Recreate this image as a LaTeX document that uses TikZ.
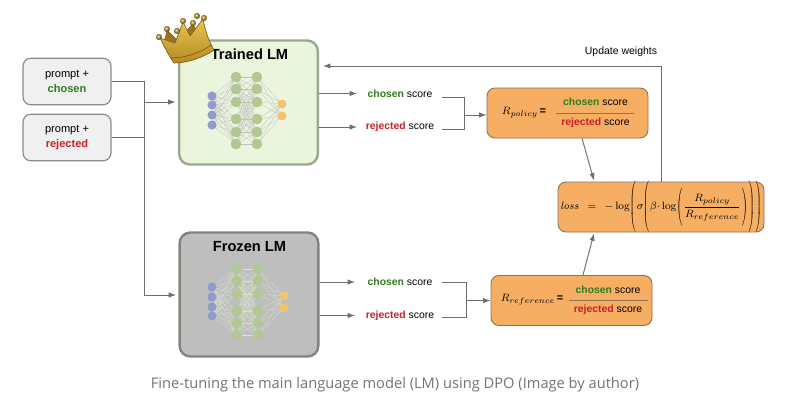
\documentclass[tikz,border=0pt]{standalone}
\usepackage{amsmath}
\usepackage[no-math]{fontspec}
\setmainfont{Liberation Sans}
\newfontfamily\capfont{Open Sans}
\usetikzlibrary{arrows.meta}
\definecolor{cgreen}{HTML}{2F7D1F}
\definecolor{cred}{HTML}{C8202A}
\definecolor{linec}{HTML}{6E6E6E}
\definecolor{orbox}{HTML}{F5AE62}
\definecolor{orline}{HTML}{8F7458}
\definecolor{hid}{HTML}{B3C794}
\definecolor{inp}{HTML}{8F9BCB}
\definecolor{outp}{HTML}{F3C470}
\definecolor{goldlt}{HTML}{E8C653}
\definecolor{goldmd}{HTML}{C99A26}
\definecolor{golddark}{HTML}{7E5C10}
\definecolor{tfill}{HTML}{EBF4DD}
\definecolor{tline}{HTML}{9BA88C}
\definecolor{ffill}{HTML}{BEBEBE}
\definecolor{fline}{HTML}{7F877A}
\definecolor{fedge}{HTML}{D8E6CC}
\newcommand{\chs}{\textbf{\textcolor{cgreen}{chosen}}}
\newcommand{\rej}{\textbf{\textcolor{cred}{rejected}}}
\newcommand{\lpar}[1]{\mathopen{\scalebox{0.6}[1]{$\left(\vrule height #1 depth #1 width 0pt\right.$}}}
\newcommand{\rpar}[1]{\mathclose{\scalebox{0.6}[1]{$\left.\vrule height #1 depth #1 width 0pt\right)$}}}
\tikzset{
  x=0.75pt,y=-0.75pt,
  inbox/.style={draw=black!45,line width=0.9pt,rounded corners=6pt,fill=black!6,minimum width=66pt,minimum height=35pt,align=center,font=\fontsize{8.3}{11}\selectfont,inner sep=0pt},
  lmbox/.style={line width=1.8pt,rounded corners=8pt,minimum width=104pt,minimum height=93pt,inner sep=0pt},
  orangebox/.style={draw=orline,line width=0.7pt,fill=orbox,rounded corners=6pt,inner sep=0pt},
  conn/.style={draw=linec,line width=0.7pt},
  arr/.style={conn,-{Latex[length=5.5pt,width=4pt]}},
  lbl/.style={font=\fontsize{7.8}{9}\selectfont,inner sep=0pt},
  neuron/.style={circle,inner sep=0pt,minimum size=8pt},
}
\newcommand{\nnet}[9]{%
  \foreach \u in {#6}{\foreach \v in {#7}{\draw[#9,line width=0.2pt] (#2,\u) -- (#3,\v);}}
  \foreach \u in {#7}{\foreach \v in {#7}{\draw[#9,line width=0.2pt] (#3,\u) -- (#4,\v);}}
  \foreach \u in {#7}{\foreach \v in {#8}{\draw[#9,line width=0.2pt] (#4,\u) -- (#5,\v);}}
  \foreach \u in {#6}{\node[neuron,fill=inp,minimum size=6.8pt] at (#2,\u) {};}
  \foreach \u in {#7}{\node[neuron,fill=hid] at (#3,\u) {};\node[neuron,fill=hid] at (#4,\u) {};}
  \foreach \u in {#8}{\node[neuron,fill=outp,minimum size=6.8pt] at (#5,\u) {};}
}
\begin{document}
\begin{tikzpicture}
\useasboundingbox (0,0) rectangle (786,404);
\fill[white] (0,0) rectangle (786,404);
% input boxes
\node[inbox] (pc) at (67,81.5) {prompt +\\\chs};
\node[inbox] (pr) at (67,137.5) {prompt +\\\rej};
% LM boxes
\node[lmbox,draw=tline,fill=tfill] (tl) at (248.5,102.5) {};
\node[lmbox,draw=fline,fill=ffill] (fl) at (249,294.5) {};
\nnet{t}{212}{236}{257}{282}{96,105,115,125}{77,89,102,119,132,144}{104,116}{black!25}
\nnet{f}{212}{237}{258}{284}{287,297,307,316}{269,281,294,311,323,335}{296,308}{fedge}
\node[font=\fontsize{11}{13}\bfseries\selectfont,inner sep=0pt] (tt) at (249.5,54.5) {Trained LM};
\node[font=\fontsize{11}{13}\bfseries\selectfont,inner sep=0pt] (ft) at (249.5,246.5) {Frozen LM};
% crown
\begin{scope}[line join=round]
\fill[goldmd!75!black,draw=golddark,line width=0.4pt] (164,44) -- (167,30) -- (177,40) -- (193,24) -- (200,38) -- cycle;
\shade[top color=goldlt,bottom color=goldmd!90!black,draw=golddark,line width=0.5pt] (174,63) .. controls (169,56) and (164,46) .. (160,38) -- (175,43) -- (183,22) -- (190,36) -- (203,19) .. controls (205,30) and (209,42) .. (214,50) .. controls (204,57) and (188,63) .. (174,63) -- cycle;
\draw[golddark,line width=0.5pt] (171,58) .. controls (186,58) and (202,52) .. (211,45);
\foreach \p/\q in {159/37,167/29,177/31,183/21,193/23,197/16,204/18}{\shade[ball color=goldmd,draw=golddark,line width=0.2pt] (\p,\q) circle (2.8);}
\end{scope}
% score labels
\node[lbl] (cs1) at (400,93.5) {\chs{} score};
\node[lbl] (rs1) at (400,127) {\rej{} score};
\node[lbl] (cs2) at (400,282) {\chs{} score};
\node[lbl] (rs2) at (400,315.5) {\rej{} score};
% orange boxes
\node[orangebox,minimum width=120.75pt,minimum height=37.5pt] (rp) at (567.5,113) {};
\node[orangebox,minimum width=120.75pt,minimum height=37.5pt] (rr) at (571.5,300.5) {};
\node[orangebox,minimum width=154.5pt,minimum height=37.5pt] (ls) at (661,207) {};
\node[font=\fontsize{8.2}{10}\selectfont,inner sep=0pt] (rpt) at (524,113) {$R_{policy}$\,\textbf{=}};
\node[lbl] (rpn) at (595.5,102) {\chs{} score};
\node[lbl] (rpd) at (595.5,122.5) {\rej{} score};
\coordinate (a1) at (556,113);
\coordinate (a1e) at (634,113);
\draw[orline,line width=0.5pt] (a1) -- (a1e);
\node[font=\fontsize{8.2}{10}\selectfont,inner sep=0pt] (rrt) at (532,300) {$R_{reference}$\,\textbf{=}};
\node[lbl] (rrn) at (608,290) {\chs{} score};
\node[lbl] (rrd) at (608,310) {\rej{} score};
\coordinate (a2) at (569,300.5);
\coordinate (a2e) at (648,300.5);
\draw[orline,line width=0.5pt] (a2) -- (a2e);
\node[inner sep=0pt,font=\fontsize{8.2}{10}\selectfont] (lt) at (661,207) {$\mathit{loss}\;\,=\;\,{-}\log\lpar{17pt}\sigma\mkern-1mu\lpar{17pt}\beta{\cdot}\log\lpar{12pt}\dfrac{R_{policy}}{R_{reference}}\rpar{12pt}\rpar{17pt}\rpar{17pt}$};
% connectors
\coordinate (j1) at (144,81.5);
\coordinate (j2) at (144,102);
\coordinate (j3) at (144,295);
\coordinate (j4) at (144,137.5);
\draw[conn] (pc.east) -- (j1) -- (j3);
\draw[conn] (pr.east) -- (j4);
\draw[arr,shorten >=1.8pt] (j2) -- (tl.west |- j2);
\draw[arr,shorten >=1.8pt] (j3) -- (fl.west |- j3);
\coordinate (c1) at (357,93.5);
\coordinate (c2) at (357,127);
\coordinate (c3) at (355,282);
\coordinate (c4) at (355,315.5);
\draw[arr] (tl.east |- c1) -- (c1);
\draw[arr] (tl.east |- c2) -- (c2);
\draw[arr] (fl.east |- c3) -- (c3);
\draw[arr] (fl.east |- c4) -- (c4);
\coordinate (b1) at (442,97);
\coordinate (b2) at (464,97);
\coordinate (b3) at (464,129);
\coordinate (b4) at (442,129);
\coordinate (b5) at (464,115);
\draw[conn] (b1) -- (b2) -- (b3) -- (b4);
\draw[arr] (b5) -- (rp.west |- b5);
\coordinate (d1) at (442,282);
\coordinate (d2) at (466,282);
\coordinate (d3) at (466,317);
\coordinate (d4) at (442,317);
\coordinate (d5) at (466,300.5);
\draw[conn] (d1) -- (d2) -- (d3) -- (d4);
\draw[arr] (d5) -- (rr.west |- d5);
\draw[arr] ([xshift=10.9pt]rp.south) -- ([xshift=-50.25pt,yshift=0.75pt]ls.north);
\draw[arr] ([xshift=8.6pt]rr.north) -- ([xshift=-50.25pt,yshift=-0.75pt]ls.south);
\coordinate (up) at (661,66);
\draw[arr,shorten >=3pt] (ls.north) -- (up) -- (tl.east |- up);
\node[font=\fontsize{7.85}{9}\selectfont,inner sep=0pt] (uw) at (621,52) {Update weights};
% caption
\node[font=\capfont\fontsize{11}{13}\selectfont,text=black!55,inner sep=0pt] (cap) at (395,385) {Fine-tuning the main language model (LM) using DPO (Image by author)};
\end{tikzpicture}
\end{document}
